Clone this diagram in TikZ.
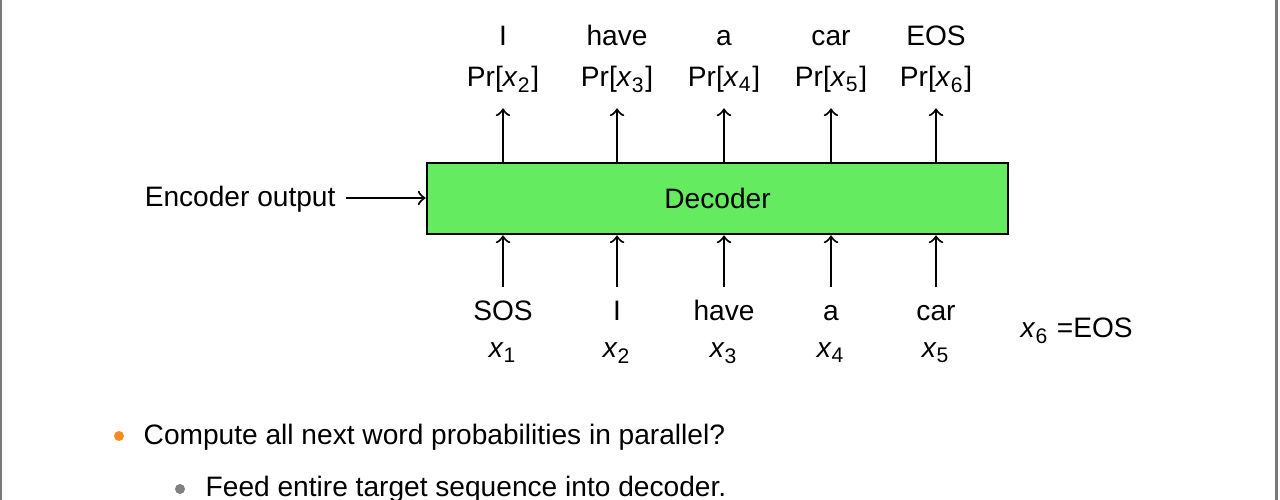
\documentclass[tikz,border=0pt]{standalone}
\usepackage{fontspec}
\setmainfont{Liberation Sans}
\usetikzlibrary{positioning}
\definecolor{decgreen}{RGB}{100,235,95}
\definecolor{bulletorange}{RGB}{244,140,32}
\definecolor{bulletgray}{RGB}{128,128,128}
\definecolor{framegray}{RGB}{120,120,120}
\newcommand{\xvar}[1]{\textit{x}\textsubscript{#1}}
\begin{document}
\begin{tikzpicture}
[boxdecorate/.style={draw,line width=0.8pt,fill=decgreen,minimum width=5.81cm,minimum height=0.71cm,inner sep=0pt},%
  worddecorate/.style={text height=1.55ex,text depth=0.4ex,inner sep=2.8pt},%
  linedecorate/.style={->,semithick}]
\fontsize{8}{9.6}\selectfont
\useasboundingbox (0,0) rectangle (12.8,5);
%% slide frame
\draw[framegray,line width=0.6pt] (0.01,0) -- (0.01,5);
\draw[framegray,line width=0.6pt] (12.765,0) -- (12.765,5);
%% decoder block
\node (dec) at (7.175,3.015) [boxdecorate] {Decoder};
\node (enc) at (3.46,3.02) [anchor=east,worddecorate] {Encoder output};
\draw[linedecorate] (enc.east) -- (enc.east -| dec.west);
%% inputs and outputs
\foreach \i/\j/\x/\inword/\outword in {
  1/2/5.03/SOS/I, 2/3/6.17/I/have, 3/4/7.24/have/a, 4/5/8.31/a/car, 5/6/9.36/car/EOS}
{
  \node (in\i) at (\x,1.79) [anchor=base,worddecorate] {\inword};
  \node (xin\i) at (\x,1.42) [anchor=base,worddecorate] {\xvar{\i}};
  \node (pr\j) at (\x,4.13) [anchor=base,worddecorate,inner sep=4.2pt] {Pr[\xvar{\j}]};
  \node (out\j) at (\x,4.54) [anchor=base,worddecorate] {\outword};
  \draw[linedecorate] (in\i.north) -- (in\i.north |- dec.south);
  \draw[linedecorate] (pr\j.south |- dec.north) -- (pr\j.south);
}
\node (eos) at (10.2,1.62) [anchor=base west,inner sep=0pt] {\xvar{6} =EOS};
%% bullet points
\fill[bulletorange] (1.19,0.64) circle (0.05);
\node (item1) at (1.43,0.55) [anchor=base west,inner sep=0pt] {Compute all next word probabilities in parallel?};
\fill[bulletgray] (1.80,0.11) circle (0.05);
\node (item2) at (2.05,0.03) [anchor=base west,inner sep=0pt] {Feed entire target sequence into decoder.};
\end{tikzpicture}
\end{document}
